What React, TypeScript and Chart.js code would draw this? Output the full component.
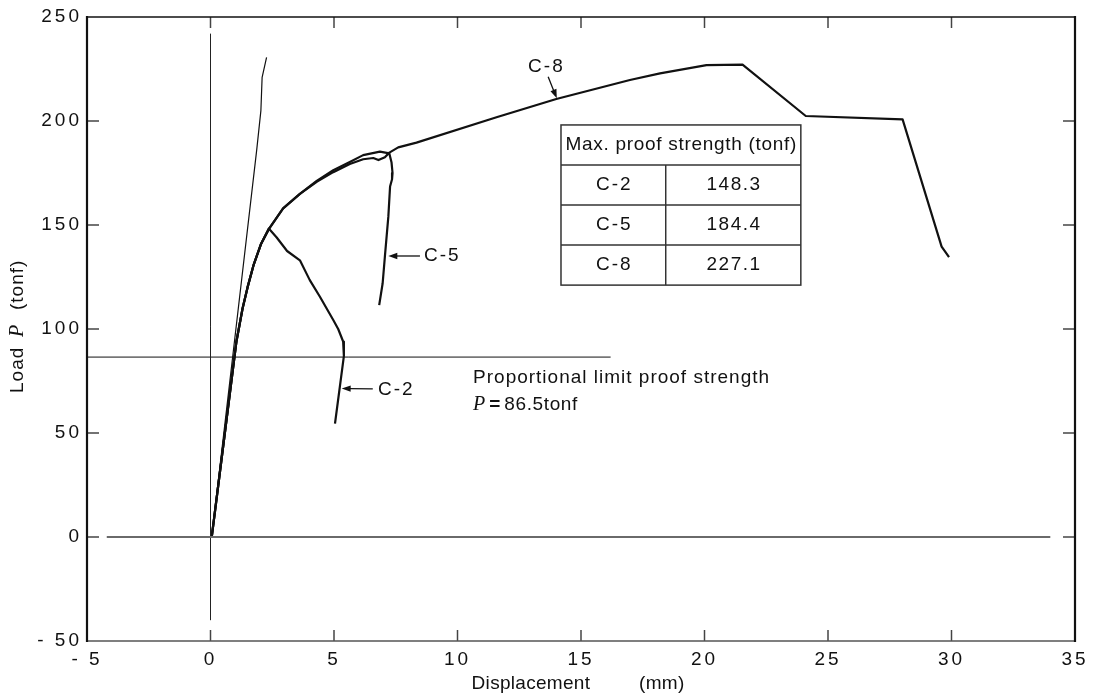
import React, { useEffect, useRef } from "react";
import { Chart, registerables } from "chart.js";

Chart.register(...registerables);

// ---------- data ----------
const xTickValues = [-5, 0, 5, 10, 15, 20, 25, 30, 35];
const yTickValues = [-50, 0, 50, 100, 150, 200, 250];

const c2X = [0.05, 1.05, 1.3, 1.5, 1.75, 2.05, 2.36, 2.68, 3.1, 3.62, 4.02, 4.43, 4.97, 5.17, 5.37, 5.4, 5.04];
const c2Y = [0, 94, 110, 120, 131, 141, 148.3, 144, 137.5, 133, 123.5, 115.5, 104.3, 100, 94, 87, 54.5];

const c5X = [0.05, 1.05, 1.3, 1.5, 1.75, 2.05, 2.36, 2.94, 3.62, 4.3, 4.97, 5.64, 6.18, 6.86, 7.24, 7.33, 7.37, 7.35, 7.27, 7.2, 7.06, 6.97, 6.83];
const c5Y = [0, 94, 110, 120, 131, 141, 148, 158, 165, 171.2, 176.3, 180.3, 183.6, 185.3, 184.4, 180, 175, 172, 168.5, 154, 134.8, 122, 111.5];

const c8X = [0.05, 1.05, 1.3, 1.5, 1.75, 2.05, 2.36, 2.94, 3.62, 4.3, 4.97, 5.64, 6.18, 6.59, 6.8, 7.06, 7.24, 7.6, 8.34, 11.58, 14.0, 16.98, 18.2, 20.08, 21.54, 24.1, 28.02, 29.6, 29.9];
const c8Y = [0, 94, 110, 120, 131, 141, 148, 158, 165, 170.8, 175.4, 179.3, 181.6, 182.2, 181.2, 182.6, 184.8, 187.3, 189.6, 201.8, 210.6, 219.7, 222.9, 226.9, 227.1, 202.4, 200.8, 139.6, 134.5];

const elasticX = [0.05, 1.87, 2.04, 2.09, 2.27];
const elasticY = [0, 186, 205, 221, 230.6];

const zeroLineX = [-4.2, 34.0];
const zeroLineY = [0, 0];
const originLineX = [0, 0];
const originLineY = [-40, 242];
const propLimit = 86.5;
const propLineX = [-5, 16.2];
const propLineY = [propLimit, propLimit];

// curve labels with arrows
const curveLabels = ["C-8", "C-5", "C-2"];
const labelTextX = [13.56, 8.64, 6.78];
const labelTextY = [226.2, 135.1, 70.9];
const labelAlign: CanvasTextAlign[] = ["center", "left", "left"];
const arrowFromX = [13.67, 8.48, 6.57];
const arrowFromY = [221.3, 135.1, 71.2];
const arrowToX = [14.02, 7.2, 5.31];
const arrowToY = [210.9, 135.1, 71.4];

// table of maximum proof strength
const tableHeader = "Max. proof strength (tonf)";
const tableSpecimens = ["C-2", "C-5", "C-8"];
const tableMaxStrength = ["148.3", "184.4", "227.1"];
const tableColX = [14.19, 18.43, 23.9];
const tableRowY = [198.1, 178.85, 159.6, 140.35, 121.1];

// proportional limit annotation
const propTextX = 10.63;
const propTextY = [76.4, 63.5];
const propTextLine1 = "Proportional limit proof strength";
const propTextLine2 = "86.5tonf";

const xTitle = "Displacement";
const xTitleUnit = "(mm)";
const yTitleA = "Load";
const yTitleP = "P";
const yTitleUnit = "(tonf)";

const SANS = "'Liberation Sans', Arial, Helvetica, sans-serif";
const SERIF = "'Liberation Serif', 'Times New Roman', serif";

const pts = (xs: number[], ys: number[]) => xs.map((x, i) => ({ x, y: ys[i] }));
const fmt = (v: number) => (v < 0 ? `- ${-v}` : `${v}`);

export default function App() {
  const ref = useRef<HTMLCanvasElement | null>(null);

  useEffect(() => {
    const canvas = ref.current;
    if (!canvas) return;

    const overlay = {
      id: "overlay",
      beforeDraw(chart: any) {
        chart.ctx.letterSpacing = "3px";
      },
      afterDraw(chart: any) {
        const ctx: CanvasRenderingContext2D = chart.ctx;
        const a = chart.chartArea;
        const xs = chart.scales.x;
        const ys = chart.scales.y;
        const X = (v: number) => xs.getPixelForValue(v);
        const Y = (v: number) => ys.getPixelForValue(v);
        ctx.save();
        (ctx as any).letterSpacing = "0px";

        const seg = (x1: number, y1: number, x2: number, y2: number) => {
          ctx.beginPath();
          ctx.moveTo(x1, y1);
          ctx.lineTo(x2, y2);
          ctx.stroke();
        };

        // inward tick marks
        ctx.strokeStyle = "#444";
        ctx.lineWidth = 1.5;
        xTickValues.slice(1, -1).forEach((v) => {
          const px = X(v);
          seg(px, a.top, px, a.top + 11);
          seg(px, a.bottom, px, a.bottom - 11);
        });
        yTickValues.slice(1, -1).forEach((v) => {
          const py = Y(v);
          seg(a.left, py, a.left + 12, py);
          seg(a.right - 12, py, a.right, py);
        });

        // frame
        ctx.lineCap = "square";
        ctx.strokeStyle = "#555";
        ctx.lineWidth = 1.5;
        seg(a.left, a.bottom, a.right, a.bottom);
        ctx.strokeStyle = "#111";
        seg(a.left, a.top, a.right, a.top);
        ctx.lineWidth = 2.2;
        seg(a.left, a.top, a.left, a.bottom);
        seg(a.right, a.top, a.right, a.bottom);
        ctx.lineCap = "butt";

        const text = (
          s: string,
          x: number,
          y: number,
          align: CanvasTextAlign,
          font: string,
          spacing: number
        ) => {
          (ctx as any).letterSpacing = `${spacing}px`;
          ctx.font = font;
          ctx.textAlign = align;
          ctx.textBaseline = "middle";
          const dx = align === "center" ? spacing / 2 : align === "right" ? spacing : 0;
          ctx.fillText(s, x + dx, y);
          const w = ctx.measureText(s).width;
          return w;
        };

        ctx.fillStyle = "#111";
        const f19 = `19px ${SANS}`;

        // curve labels + arrows
        curveLabels.forEach((lab, i) => {
          text(lab, X(labelTextX[i]), Y(labelTextY[i]), labelAlign[i], f19, 2);
          const x1 = X(arrowFromX[i]);
          const y1 = Y(arrowFromY[i]);
          const x2 = X(arrowToX[i]);
          const y2 = Y(arrowToY[i]);
          const ang = Math.atan2(y2 - y1, x2 - x1);
          const L = 9;
          const W = 3.2;
          ctx.strokeStyle = "#111";
          ctx.lineWidth = 1.3;
          seg(x1, y1, x2 - Math.cos(ang) * (L - 1), y2 - Math.sin(ang) * (L - 1));
          ctx.beginPath();
          ctx.moveTo(x2, y2);
          ctx.lineTo(x2 - Math.cos(ang) * L - Math.sin(ang) * W, y2 - Math.sin(ang) * L + Math.cos(ang) * W);
          ctx.lineTo(x2 - Math.cos(ang) * L + Math.sin(ang) * W, y2 - Math.sin(ang) * L - Math.cos(ang) * W);
          ctx.closePath();
          ctx.fill();
        });

        // table
        const tx = tableColX.map(X);
        const ty = tableRowY.map(Y);
        ctx.strokeStyle = "#333";
        ctx.lineWidth = 1.5;
        ctx.strokeRect(tx[0], ty[0], tx[2] - tx[0], ty[4] - ty[0]);
        for (let i = 1; i < 4; i++) seg(tx[0], ty[i], tx[2], ty[i]);
        seg(tx[1], ty[1], tx[1], ty[4]);
        text(tableHeader, (tx[0] + tx[2]) / 2, (ty[0] + ty[1]) / 2, "center", f19, 0.7);
        tableSpecimens.forEach((s, i) => {
          const cy = (ty[i + 1] + ty[i + 2]) / 2;
          text(s, (tx[0] + tx[1]) / 2, cy, "center", f19, 2);
          text(tableMaxStrength[i], (tx[1] + tx[2]) / 2, cy, "center", f19, 1.5);
        });

        // proportional limit text
        const px0 = X(propTextX);
        text(propTextLine1, px0, Y(propTextY[0]), "left", f19, 1);
        let cx = px0;
        const py2 = Y(propTextY[1]);
        cx += text("P", cx, py2, "left", `italic 20px ${SERIF}`, 0);
        cx += 4;
        cx += text("=", cx, py2, "left", `bold 19px ${SANS}`, 0);
        cx += 4;
        text(propTextLine2, cx, py2, "left", f19, 0.6);

        // axis titles
        const midX = (a.left + a.right) / 2;
        const midY = (a.top + a.bottom) / 2;
        text(xTitle, midX + 9, 684, "right", f19, 0.3);
        text(xTitleUnit, midX + 58, 684, "left", f19, 0.3);

        ctx.save();
        ctx.translate(18, midY + 64);
        ctx.rotate(-Math.PI / 2);
        text(yTitleA, 0, 0, "left", f19, 1);
        text(yTitleP, 56, 0, "left", `italic 20px ${SERIF}`, 0);
        text(yTitleUnit, 83, 0, "left", f19, 1);
        ctx.restore();

        ctx.restore();
      },
    };

    const lineDs = (data: { x: number; y: number }[], color: string, width: number) => ({
      data,
      borderColor: color,
      backgroundColor: color,
      borderWidth: width,
      showLine: true,
      pointRadius: 0,
      tension: 0,
      fill: false,
      borderJoinStyle: "round" as const,
    });

    const chart = new Chart(canvas, {
      type: "scatter",
      data: {
        datasets: [
          lineDs(pts(zeroLineX, zeroLineY), "#6a6a6a", 2),
          lineDs(pts(originLineX, originLineY), "#222", 1),
          lineDs(pts(propLineX, propLineY), "#111", 1),
          lineDs(pts(elasticX, elasticY), "#111", 1.2),
          lineDs(pts(c2X, c2Y), "#111", 2.2),
          lineDs(pts(c5X, c5Y), "#111", 2.2),
          lineDs(pts(c8X, c8Y), "#111", 2.2),
        ],
      },
      options: {
        animation: false,
        responsive: false,
        events: [],
        layout: { padding: { top: 17, right: 18, left: 0, bottom: 0 } },
        plugins: {
          legend: { display: false },
          tooltip: { enabled: false },
        },
        scales: {
          x: {
            type: "linear",
            min: -5,
            max: 35,
            afterBuildTicks: (s: any) => {
              s.ticks = xTickValues.map((v) => ({ value: v }));
            },
            afterFit: (s: any) => {
              s.height = 56;
            },
            ticks: {
              callback: (v: any) => fmt(Number(v)),
              font: { family: SANS, size: 19 },
              color: "#111",
              padding: 7,
              maxRotation: 0,
              autoSkip: false,
            },
            grid: { display: false, drawTicks: false },
            border: { display: false },
          },
          y: {
            type: "linear",
            min: -50,
            max: 250,
            afterBuildTicks: (s: any) => {
              s.ticks = yTickValues.map((v) => ({ value: v }));
            },
            afterFit: (s: any) => {
              s.width = 87;
            },
            ticks: {
              callback: (v: any) => fmt(Number(v)),
              font: { family: SANS, size: 19 },
              color: "#111",
              padding: 5,
              autoSkip: false,
            },
            grid: { display: false, drawTicks: false },
            border: { display: false },
          },
        },
      } as any,
      plugins: [overlay],
    });

    return () => chart.destroy();
  }, []);

  return (
    <canvas
      ref={ref}
      width={1093}
      height={697}
      style={{ position: "absolute", left: 0, top: 0, display: "block", background: "#fff" }}
    />
  );
}
